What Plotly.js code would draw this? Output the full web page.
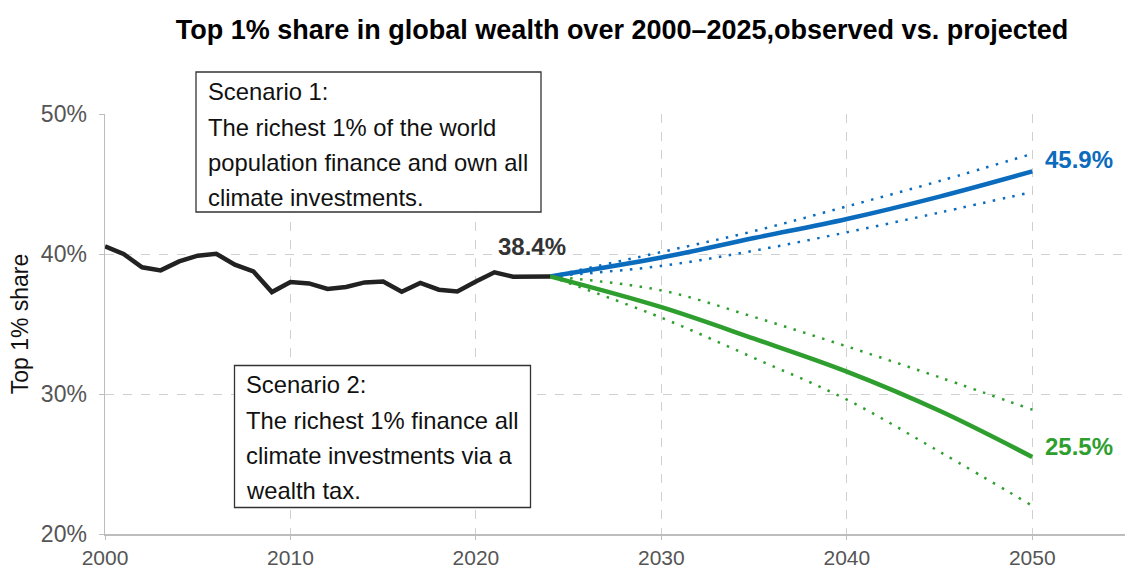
<!DOCTYPE html>
<html>
<head>
<meta charset="utf-8">
<script src="https://cdn.plot.ly/plotly-3.0.1.min.js"></script>
<style>html,body{margin:0;padding:0;background:#fff;}#chart{width:1131px;height:570px;}</style>
</head>
<body>
<div id="chart"></div>
<script>
// Observed series
const obsYears = [2000,2001,2002,2003,2004,2005,2006,2007,2008,2009,2010,2011,2012,2013,2014,2015,2016,2017,2018,2019,2020,2021,2022,2023,2024];
const obsShare = [40.54,40.0,39.05,38.83,39.47,39.88,40.02,39.24,38.76,37.28,38.0,37.9,37.5,37.64,37.97,38.04,37.3,37.93,37.45,37.33,38.04,38.69,38.38,38.38,38.4];

// Projections
const projYears = [2024,2030,2035,2040,2045,2050];
const s1Central = [38.4,39.75,41.14,42.5,44.1,45.9];
const s1Upper   = [38.4,40.14,41.64,43.4,45.21,47.16];
const s1Lower   = [38.4,39.15,40.24,41.55,42.96,44.43];
const s2Central = [38.4,36.2,33.95,31.6,28.8,25.5];
const s2Upper   = [38.4,37.4,35.5,33.4,31.19,28.88];
const s2Lower   = [38.4,35.45,32.57,29.6,25.88,22.02];

// Text
const titleText = "Top 1% share in global wealth over 2000\u20132025,observed vs. projected";
const yTitle = "Top 1% share";
const xTicks = [2000,2010,2020,2030,2040,2050];
const yTicks = [20,30,40,50];
const scenario1Lines = ["Scenario 1:","The richest 1% of the world","population finance and own all","climate investments."];
const scenario2Lines = ["Scenario 2:","The richest 1% finance all","climate investments via a","wealth tax."];

const BLUE = "#0b6bbd", GREEN = "#2e9f2e", BLACK = "#222222";
const FONT = "Liberation Sans, Arial, sans-serif";
const dotDash = "2.5px,7.5px";

const traces = [
  {x: projYears, y: s1Upper, mode:"lines", line:{color:BLUE,width:2.5,dash:dotDash,shape:"spline",smoothing:1}, hoverinfo:"skip"},
  {x: projYears, y: s1Lower, mode:"lines", line:{color:BLUE,width:2.5,dash:dotDash,shape:"spline",smoothing:1}, hoverinfo:"skip"},
  {x: projYears, y: s2Upper, mode:"lines", line:{color:GREEN,width:2.5,dash:dotDash,shape:"spline",smoothing:1}, hoverinfo:"skip"},
  {x: projYears, y: s2Lower, mode:"lines", line:{color:GREEN,width:2.5,dash:dotDash,shape:"spline",smoothing:1}, hoverinfo:"skip"},
  {x: projYears, y: s1Central, mode:"lines", line:{color:BLUE,width:4.5,shape:"spline",smoothing:1}},
  {x: projYears, y: s2Central, mode:"lines", line:{color:GREEN,width:4.5,shape:"spline",smoothing:1}},
  {x: obsYears, y: obsShare, mode:"lines", line:{color:BLACK,width:4.5}}
];

const last = a => a[a.length-1];
const annotations = [
  {x: 2023.05, y: 40.52, xref:"x", yref:"y", text:"<b>"+last(obsShare).toFixed(1)+"%</b>", showarrow:false, font:{family:FONT,size:24,color:"#333333"}, xanchor:"center", yanchor:"middle"},
  {x: 2050.6, y: 46.73, xref:"x", yref:"y", text:"<b>"+last(s1Central).toFixed(1)+"%</b>", showarrow:false, font:{family:FONT,size:24,color:BLUE}, xanchor:"left", yanchor:"middle"},
  {x: 2050.6, y: 26.24, xref:"x", yref:"y", text:"<b>"+last(s2Central).toFixed(1)+"%</b>", showarrow:false, font:{family:FONT,size:24,color:GREEN}, xanchor:"left", yanchor:"middle"}
];

// layout in pixels -> paper helpers
const L = 105, R = 6, T = 114, B = 36, W = 1131, H = 570;
const pw = W - L - R, ph = H - T - B;
const px = v => (v - L) / pw;
const py = v => (H - B - v) / ph;

const s1LineY = [92,127,162,197];
scenario1Lines.forEach((t,i) => annotations.push({xref:"paper",yref:"paper",x:px(206),y:py(s1LineY[i]),text:t,showarrow:false,xanchor:"left",yanchor:"middle",font:{family:FONT,size:23.8,color:"#111"}}));
const s2LineY = [385,420,455,490];
scenario2Lines.forEach((t,i) => annotations.push({xref:"paper",yref:"paper",x:px(244),y:py(s2LineY[i]),text:t,showarrow:false,xanchor:"left",yanchor:"middle",font:{family:FONT,size:23.8,color:"#111"}}));

const shapes = [
  {type:"rect", xref:"paper", yref:"paper", x0:px(196), x1:px(541), y0:py(212), y1:py(72), line:{color:"#333",width:1.3}, fillcolor:"#ffffff", layer:"above"},
  {type:"rect", xref:"paper", yref:"paper", x0:px(234.5), x1:px(530.5), y0:py(507.5), y1:py(365.5), line:{color:"#333",width:1.3}, fillcolor:"#ffffff", layer:"above"}
];

const layout = {
  width: W, height: H,
  margin: {l:L, r:R, t:T, b:B, pad:0},
  paper_bgcolor:"#fff", plot_bgcolor:"#fff",
  showlegend:false,
  title: {text:"<b>"+titleText+"</b>", x:622/1131, xref:"container", xanchor:"center", y:1-30/570, yref:"container", yanchor:"middle", font:{family:FONT,size:27,color:"#000"}},
  xaxis: {range:[2000,2055], tickvals:xTicks, ticktext:xTicks.map(String), showgrid:true, gridcolor:"#d0d0d0", griddash:"dash", gridwidth:1,
          zeroline:false, showline:true, linecolor:"#bdbdbd", linewidth:1.5, ticks:"outside", ticklen:4, tickcolor:"#bdbdbd",
          ticklabelstandoff:0, tickfont:{family:FONT,size:21,color:"#555"}, fixedrange:true},
  yaxis: {range:[20,50], tickvals:yTicks, ticktext:yTicks.map(v=>v+"%"), showgrid:true, gridcolor:"#d0d0d0", griddash:"dash", gridwidth:1,
          zeroline:false, showline:true, linecolor:"#bdbdbd", linewidth:1.5, ticks:"outside", ticklen:5, tickcolor:"#bdbdbd",
          ticklabelstandoff:7, tickfont:{family:FONT,size:23,color:"#555"}, title:{text:yTitle, font:{family:FONT,size:23,color:"#111"}, standoff:6}, fixedrange:true},
  annotations: annotations,
  shapes: shapes
};

Plotly.newPlot("chart", traces, layout, {displayModeBar:false, staticPlot:true});
</script>
</body>
</html>
